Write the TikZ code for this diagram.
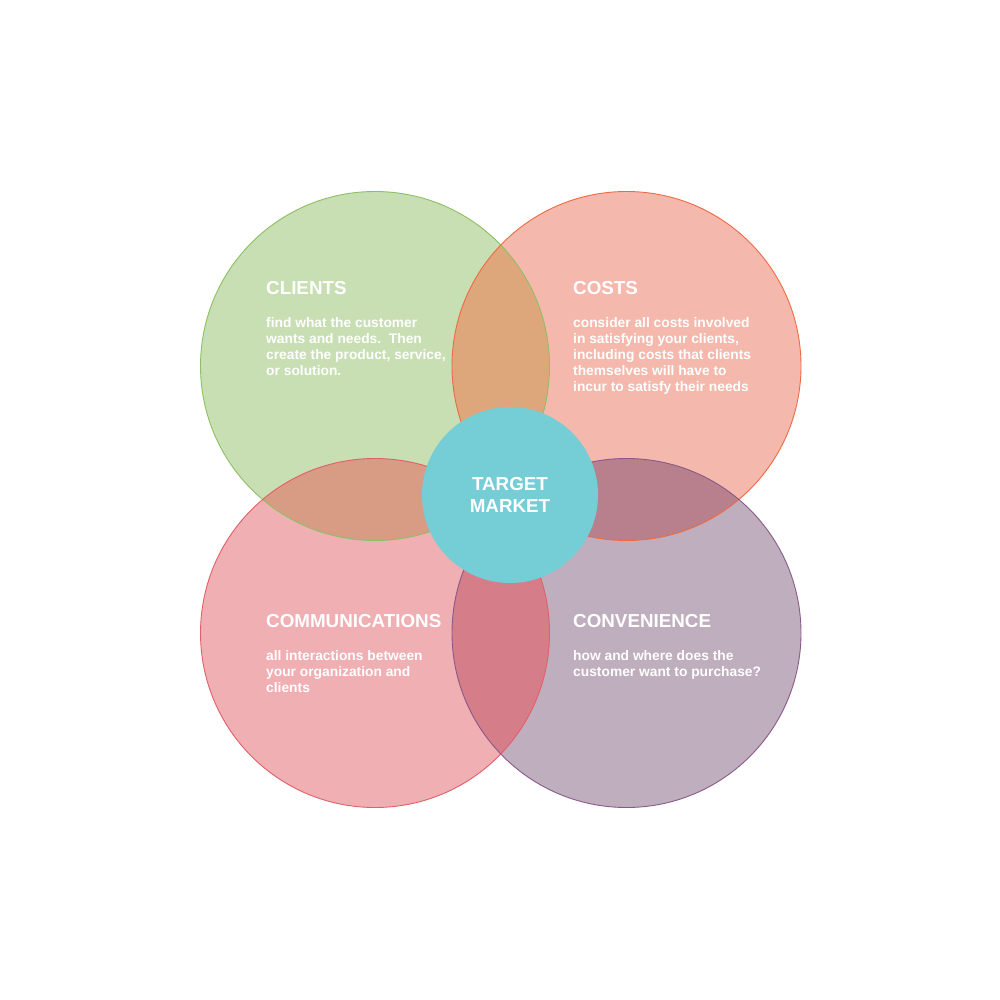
\documentclass[tikz,border=0pt]{standalone}
\usepackage{fontspec}
\setmainfont{Liberation Sans}
\definecolor{clFill}{HTML}{C8DEB3}
\definecolor{clLine}{HTML}{8CC063}
\definecolor{coFill}{HTML}{F4B8AC}
\definecolor{coLine}{HTML}{EE6A45}
\definecolor{cmFill}{HTML}{F0AFB3}
\definecolor{cmLine}{HTML}{E0606A}
\definecolor{cvFill}{HTML}{BFAEBD}
\definecolor{cvLine}{HTML}{8A5A88}
\definecolor{clco}{HTML}{DEA77B}
\definecolor{clcm}{HTML}{D89C85}
\definecolor{cocv}{HTML}{B8808D}
\definecolor{cmcv}{HTML}{D57E89}
\definecolor{tmFill}{HTML}{75CDD6}
\tikzset{
  title/.style={anchor=base west, inner sep=0pt, text=white, font=\fontsize{18.8}{22}\selectfont\bfseries},
  body/.style={anchor=base west, inner sep=0pt, text=white},
  ring/.style={line width=0.9pt},
}
\newcommand{\bodytext}[1]{\parbox[t]{240pt}{\raggedright\fontsize{13.8}{16}\selectfont\bfseries #1}}
\begin{document}
\begin{tikzpicture}[x=1pt,y=-1pt]
\useasboundingbox (0,0) rectangle (1000,1000);
\coordinate (cl) at (375,366);
\coordinate (co) at (626.5,366);
\coordinate (cm) at (375,633);
\coordinate (cv) at (626.5,633);
\coordinate (tm) at (510,495);
\def\R{174.5}
% base fills
\fill[clFill] (cl) circle (\R);
\fill[coFill] (co) circle (\R);
\fill[cmFill] (cm) circle (\R);
\fill[cvFill] (cv) circle (\R);
% overlaps
\begin{scope}\clip (cl) circle (\R); \fill[clco] (co) circle (\R); \end{scope}
\begin{scope}\clip (cl) circle (\R); \fill[clcm] (cm) circle (\R); \end{scope}
\begin{scope}\clip (co) circle (\R); \fill[cocv] (cv) circle (\R); \end{scope}
\begin{scope}\clip (cm) circle (\R); \fill[cmcv] (cv) circle (\R); \end{scope}
% outlines
\draw[ring, clLine] (cl) circle (\R);
\draw[ring, coLine] (co) circle (\R);
\draw[ring, cmLine] (cm) circle (\R);
\draw[ring, cvLine] (cv) circle (\R);
% center
\fill[tmFill] (tm) circle (88);
\node[text=white, inner sep=0pt, align=center, font=\fontsize{18.8}{22}\selectfont\bfseries] (tmlabel) at (510,495) {TARGET\\MARKET};
% texts
\node[title] (t1) at (266,294) {CLIENTS};
\node[body] (b1) at (266,327) {\bodytext{find what the customer\\ wants and needs.\ \ Then\\ create the product, service,\\ or solution.}};
\node[title] (t2) at (573,294) {COSTS};
\node[body] (b2) at (573,327) {\bodytext{consider all costs involved\\ in satisfying your clients,\\ including costs that clients\\ themselves will have to\\ incur to satisfy their needs}};
\node[title] (t3) at (266,627) {COMMUNICATIONS};
\node[body] (b3) at (266,660) {\bodytext{all interactions between\\ your organization and\\ clients}};
\node[title] (t4) at (573,627) {CONVENIENCE};
\node[body] (b4) at (573,660) {\bodytext{how and where does the\\ customer want to purchase?}};
\end{tikzpicture}
\end{document}
